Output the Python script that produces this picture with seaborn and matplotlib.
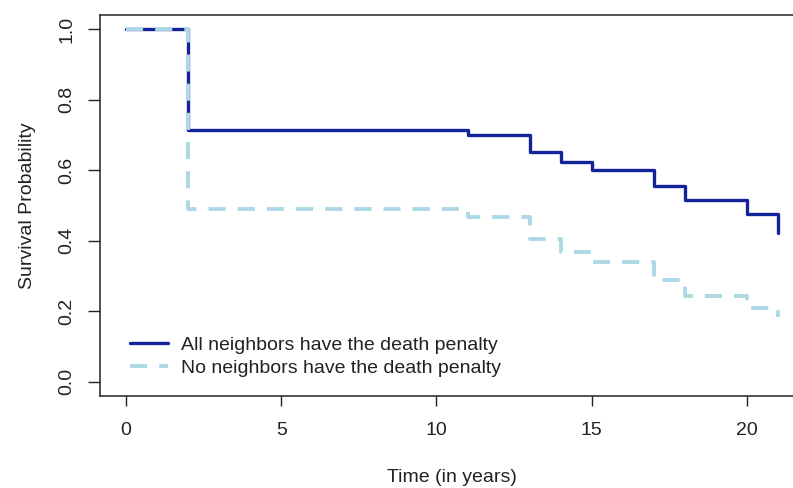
import matplotlib
matplotlib.use("Agg")
import matplotlib.pyplot as plt
import seaborn as sns
import pandas as pd
from matplotlib.lines import Line2D

# survival step values
times = [0, 2, 11, 13, 14, 15, 17, 18, 20, 21]
surv_all = [1.0, 0.714, 0.700, 0.651, 0.624, 0.600, 0.555, 0.516, 0.475, 0.421]
surv_none = [1.0, 0.489, 0.468, 0.404, 0.369, 0.339, 0.289, 0.244, 0.209, 0.185]
labels = ["All neighbors have the death penalty", "No neighbors have the death penalty"]
colors = ["#15239a", "#add8e6"]

df = pd.concat([
    pd.DataFrame({"time": times, "surv": surv_all, "group": labels[0]}),
    pd.DataFrame({"time": times, "surv": surv_none, "group": labels[1]}),
])

sns.set_style("white")
plt.rcParams["font.family"] = ["Liberation Sans", "DejaVu Sans"]
fs = 14

fig = plt.figure(figsize=(7.93, 4.88), dpi=100)
ax = fig.add_axes([100 / 793, 1 - 396 / 488, 704 / 793, 381 / 488])

sns.lineplot(data=df[df.group == labels[0]], x="time", y="surv", ax=ax,
             color=colors[0], lw=2.4, drawstyle="steps-post", estimator=None)
sns.lineplot(data=df[df.group == labels[1]], x="time", y="surv", ax=ax,
             color=colors[1], lw=2.8, drawstyle="steps-post", estimator=None,
             dashes=False)
ax.lines[1].set_dashes((4.4, 3.1))
ax.lines[1].set_dash_capstyle("butt")

ax.set_xlim(-0.84, 21.84)
ax.set_ylim(-0.04, 1.04)
ax.set_xticks([0, 5, 10, 15, 20])
ax.set_yticks([0, 0.2, 0.4, 0.6, 0.8, 1.0])
ax.set_yticklabels(["0.0", "0.2", "0.4", "0.6", "0.8", "1.0"], rotation=90, va="center")
for s in ax.spines.values():
    s.set_color("#222222")
    s.set_linewidth(1.1)
ax.tick_params(axis="both", which="major", direction="out", colors="#222222",
               labelcolor="#222222", labelsize=fs, width=1.0, bottom=True, left=True)
ax.tick_params(axis="x", length=7.5, pad=11.5)
ax.tick_params(axis="y", length=8.6, pad=9)

ax.set_xlabel("Time (in years)", fontsize=fs, color="#222222", labelpad=21)
ax.set_ylabel("Survival Probability", fontsize=fs, color="#222222", labelpad=16)

handles = [Line2D([], [], color=colors[0], lw=2.4),
           Line2D([], [], color=colors[1], lw=2.8, dashes=(4.4, 3.1))]
ax.legend(handles, labels, loc="lower left", bbox_to_anchor=(0.031, 0.03),
          frameon=False, fontsize=fs, handlelength=1.96, handletextpad=0.7,
          labelspacing=0.28, borderaxespad=0, labelcolor="#222222")

fig.savefig("out.png", dpi=100)
